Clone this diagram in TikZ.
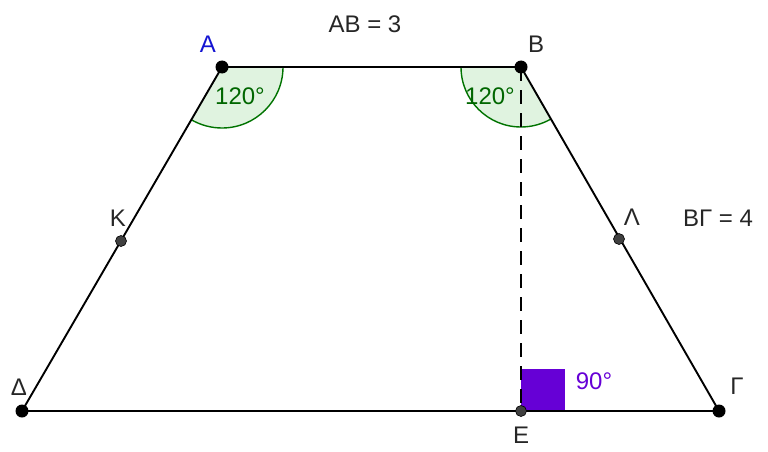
\documentclass[tikz,border=0pt]{standalone}
\usepackage{fontspec}
\setmainfont{Liberation Sans}
\begin{document}
\begin{tikzpicture}[x=1pt,y=-1pt,
  side/.style={line width=1.9pt,black},
  vtx/.style={circle,fill=black,inner sep=0pt,minimum size=13pt},
  mid/.style={circle,fill=black!75,draw=black,line width=0.6pt,inner sep=0pt,minimum size=11pt},
  lbl/.style={font=\fontsize{24}{26}\selectfont,text=black!85,inner sep=0pt},
  angtxt/.style={font=\fontsize{24}{26}\selectfont,text=green!40!black,inner sep=0pt}]
\useasboundingbox (0,0) rectangle (768,452);
\definecolor{purp}{RGB}{102,0,214}
\coordinate (A) at (222,67);
\coordinate (B) at (521,67);
\coordinate (G) at (719,411);
\coordinate (D) at (22,411);
\coordinate (E) at (521,411);
% angle sectors
\fill[green!60!black!12] (A) -- ++(61,0) arc[start angle=0,end angle=120,radius=61] -- cycle;
\draw[green!45!black,line width=1.4pt] (A) ++(61,0) arc[start angle=0,end angle=120,radius=61];
\fill[green!60!black!12] (B) -- ++(-60,0) arc[start angle=180,end angle=60,radius=60] -- cycle;
\draw[green!45!black,line width=1.4pt] (B) ++(-60,0) arc[start angle=180,end angle=60,radius=60];
% right angle
\fill[purp] (521,369) rectangle (565,411);
% sides
\draw[side] (A) -- (B) -- (G) -- (D) -- cycle;
\draw[side,dash pattern=on 14pt off 9pt] (B) -- (E);
% points
\node[vtx] (pA) at (A) {};
\node[vtx] (pB) at (B) {};
\node[vtx] (pG) at (G) {};
\node[vtx] (pD) at (D) {};
\node[mid] (pK) at (121,241) {};
\node[mid] (pL) at (619,239) {};
\node[mid] (pE) at (E) {};
% labels
\node[lbl,text={rgb,255:red,20;green,20;blue,210}] (lA) at (208,44) {A};
\node[lbl] (lB) at (536,44) {B};
\node[lbl] (lK) at (118,218) {K};
\node[lbl] (lL) at (632,217) {Λ};
\node[lbl] (lD) at (19,387) {Δ};
\node[lbl] (lG) at (737,386) {Γ};
\node[lbl,anchor=north] (lE) at (521,427) {E};
\node[lbl] (tAB) at (365,24) {AB = 3};
\node[lbl] (tBG) at (718,218) {ΒΓ = 4};
\node[angtxt] (a1) at (240,96) {120°};
\node[angtxt] (a2) at (490,96) {120°};
\node[lbl,text=purp] (a3) at (594,381) {90°};
\end{tikzpicture}
\end{document}
